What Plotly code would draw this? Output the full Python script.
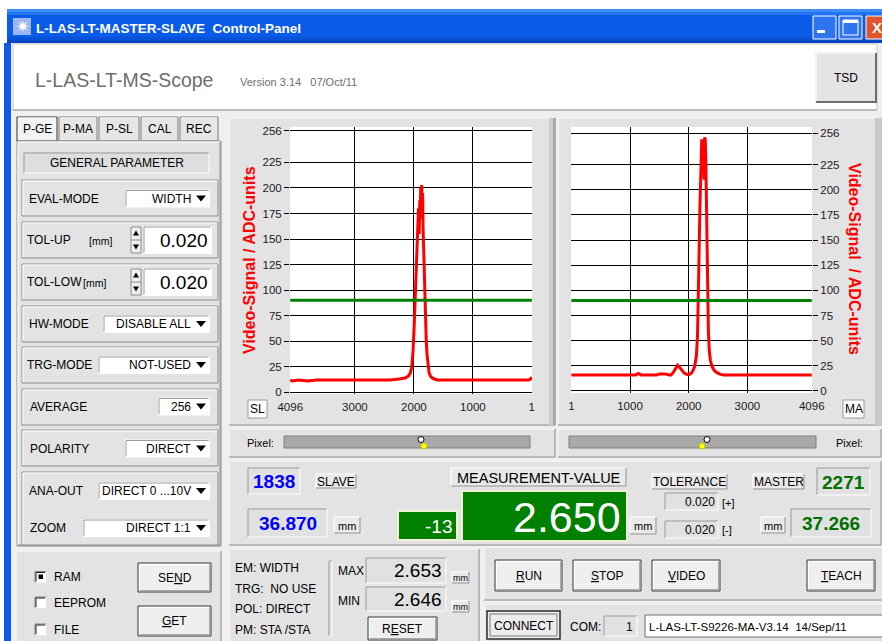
import plotly.graph_objects as go

W, H = 882, 641
FONT = "Liberation Sans, Arial, sans-serif"

# ---------------- data ----------------
sl_pixel = [4096, 4060, 3950, 3800, 3650, 3500, 3350, 3200, 3000, 2800, 2600, 2400, 2250,
            2150, 2090, 2060, 2035, 2015, 1995, 1978, 1962, 1948, 1935, 1922, 1910, 1900,
            1892, 1884, 1876, 1868, 1860, 1852, 1844, 1836, 1826, 1815, 1802, 1790, 1776,
            1760, 1742, 1720, 1690, 1650, 1600, 1450, 1300, 1100, 900, 700, 500, 300, 150,
            60, 20, 1]
sl_signal = [12, 11, 12, 11, 12, 12, 12, 12, 12, 12, 12, 12, 13,
             14, 16, 19, 25, 40, 65, 95, 125, 150, 165, 180, 155, 188,
             170, 200, 178, 203, 185, 195, 160, 140, 115, 90, 68, 50, 36,
             25, 19, 16, 14, 13, 12, 12, 12, 12, 12, 12, 12, 12, 12,
             12, 13, 15]

ma_pixel = [1, 100, 300, 500, 700, 900, 1100, 1143, 1190, 1300, 1450, 1503, 1600, 1660,
            1700, 1743, 1780, 1811, 1850, 1886, 1930, 1971, 2010, 2040, 2070, 2100, 2131,
            2150, 2165, 2178, 2190, 2200, 2212, 2222, 2232, 2242, 2252, 2262, 2272, 2282,
            2292, 2302, 2312, 2322, 2335, 2350, 2371, 2400, 2440, 2490, 2540, 2600, 2800,
            3000, 3300, 3600, 3900, 4096]
ma_signal = [16, 16, 16, 16, 16, 16, 16, 17.5, 16, 16, 16, 17, 17, 16,
             16, 19, 23, 25.5, 23, 20, 17.5, 16.5, 16.5, 17.5, 20, 24, 35,
             55, 90, 140, 180, 212, 232, 250, 215, 250, 248, 210, 252, 250,
             228, 180, 135, 95, 60, 40, 30, 24, 20, 18, 16.5, 16, 16,
             16, 16, 16, 16, 16]

sl_threshold = 90
ma_threshold = 90
pixel_span = [4096, 1]
sl_xticks = [4096, 3000, 2000, 1000, 1]
ma_xticks = [1, 1000, 2000, 3000, 4096]
adc_ticks = [0, 25, 50, 75, 100, 125, 150, 175, 200, 225, 256]

slave_pixel_txt = "1838"
master_pixel_txt = "2271"
slave_mm_txt = "36.870"
master_mm_txt = "37.266"
measurement_txt = "2.650"
diff_txt = "-13"
tol_up_txt = "0.020"
tol_low_txt = "0.020"
max_txt = "2.653"
min_txt = "2.646"

# ---------------- drawing helpers (pixel -> paper) ----------------
shapes = []
annots = []

C_PANEL = "#e3e3e3"
C_WIN = "#efefef"


def X(px):
    return px / W


def Y(py):
    return 1 - py / H


def rect(x0, y0, x1, y1, fill, line=None, lw=1):
    shapes.append(dict(type="rect", xref="paper", yref="paper", layer="below",
                       x0=X(x0), x1=X(x1), y0=Y(y1), y1=Y(y0), fillcolor=fill,
                       line=dict(color=line if line else "rgba(0,0,0,0)",
                                 width=lw if line else 0)))


def seg(x0, y0, x1, y1, color, lw=1):
    shapes.append(dict(type="line", xref="paper", yref="paper", layer="below",
                       x0=X(x0), x1=X(x1), y0=Y(y0), y1=Y(y1),
                       line=dict(color=color, width=lw)))


def circle(cx, cy, r, fill, line=None):
    shapes.append(dict(type="circle", xref="paper", yref="paper", layer="below",
                       x0=X(cx - r), x1=X(cx + r), y0=Y(cy + r), y1=Y(cy - r),
                       fillcolor=fill,
                       line=dict(color=line if line else "rgba(0,0,0,0)",
                                 width=1 if line else 0)))


def tri(cx, cy, w, h, up=True, color="#000"):
    if up:
        pts = [(cx - w / 2, cy + h / 2), (cx + w / 2, cy + h / 2), (cx, cy - h / 2)]
    else:
        pts = [(cx - w / 2, cy - h / 2), (cx + w / 2, cy - h / 2), (cx, cy + h / 2)]
    path = "M " + " L ".join(f"{X(a):.5f},{Y(b):.5f}" for a, b in pts) + " Z"
    shapes.append(dict(type="path", xref="paper", yref="paper", layer="below",
                       path=path, fillcolor=color, line=dict(color=color, width=0)))


def bevel(x0, y0, x1, y1, fill=C_PANEL, raised=True, outer=None):
    rect(x0, y0, x1, y1, fill, outer)
    a, b = ("#ffffff", "#8e8e8e") if raised else ("#9a9a9a", "#ffffff")
    seg(x0 + 1, y0 + 1, x1 - 1, y0 + 1, a)
    seg(x0 + 1, y0 + 1, x0 + 1, y1 - 1, a)
    seg(x0 + 1, y1 - 1, x1 - 1, y1 - 1, b)
    seg(x1 - 1, y0 + 1, x1 - 1, y1 - 1, b)


def display(x0, y0, x1, y1, fill="#e1e1e1"):
    bevel(x0, y0, x1, y1, fill, raised=False)


def text(x, y, s, size=12, color="#000000", anchor="left", bold=False, angle=0,
         family=FONT):
    if bold:
        s = "<b>" + s + "</b>"
    annots.append(dict(x=X(x), y=Y(y), xref="paper", yref="paper", text=s,
                       showarrow=False, xanchor=anchor, yanchor="middle",
                       textangle=angle, borderpad=0,
                       font=dict(size=size, color=color, family=family)))


def small_button(x0, y0, x1, y1, label, size=12):
    bevel(x0, y0, x1, y1, "#e9e9e9", raised=True)
    text((x0 + x1) / 2, (y0 + y1) / 2 + 0.5, label, size=size, anchor="center")


def button(x0, y0, x1, y1, label, size=12):
    rect(x0, y0, x1, y1, "#efefef", "#3a3a3a")
    seg(x0 + 1.5, y0 + 1.5, x1 - 1.5, y0 + 1.5, "#ffffff", 1)
    seg(x0 + 1.5, y0 + 1.5, x0 + 1.5, y1 - 1.5, "#ffffff", 1)
    seg(x0 + 1.5, y1 - 1.5, x1 - 1.5, y1 - 1.5, "#a8a8a8", 1)
    seg(x1 - 1.5, y0 + 1.5, x1 - 1.5, y1 - 1.5, "#a8a8a8", 1)
    text((x0 + x1) / 2, (y0 + y1) / 2, label, size=size, anchor="center")


def dropdown(x0, x1, yc, label):
    y0, y1 = yc - 9, yc + 9
    display(x0, y0, x1, y1, "#ffffff")
    text(x1 - 18, yc, label, size=12, anchor="right")
    tri(x1 - 9, yc, 10, 6, up=False)


# ---------------- window frame ----------------
rect(0, 0, 882, 9, "#ffffff")
rect(7, 9, 882, 43, "#0a5ce8")
rect(7, 9, 882, 12, "#3d8ef8")
rect(7, 12, 882, 15, "#2274f2")
rect(7, 37, 882, 40, "#0752d8")
rect(7, 40, 882, 43, "#0546c4")
rect(13, 18, 31, 35, "#9bb6f0")
text(22, 27, "✷", size=16, color="#ffffff", anchor="center", family="DejaVu Sans")
text(35, 28, "L-LAS-LT-MASTER-SLAVE&nbsp;&nbsp;Control-Panel", size=13.5,
     color="#ffffff", bold=True)
# caption buttons
rect(813, 16, 836, 39, "#2f74ee", "#ffffff")
rect(817, 30, 825, 33, "#ffffff")
rect(839, 16, 862, 39, "#2f74ee", "#ffffff")
rect(843, 20, 858, 35, "rgba(0,0,0,0)", "#ffffff")
rect(843, 20, 858, 23, "#ffffff")
rect(866, 16, 886, 39, "#e0562d", "#ffffff")
text(877, 27.5, "X", size=15, color="#ffffff", anchor="center", bold=True)

rect(7, 43, 882, 641, C_WIN)
rect(4, 43, 11, 641, "#0a5ce8")

# header
rect(13, 44, 877, 110, "#ffffff", "#c6c6c6")
seg(13, 110, 877, 110, "#9a9a9a")
text(34, 80, "L-LAS-LT-MS-Scope", size=19.5, color="#6e6e6e")
text(239, 81.5, "Version 3.14&nbsp;&nbsp;&nbsp;07/Oct/11", size=11, color="#6e6e6e")
bevel(815, 52, 877, 103, "#e4e4e4")
seg(816, 102, 877, 102, "#6e6e6e", 2)
seg(876, 53, 876, 103, "#6e6e6e", 2)
text(846, 78, "TSD", size=12, anchor="center")

# ---------------- left parameter panel ----------------
rect(15, 116, 223, 546, C_WIN)
tabs = [("P-GE", 17, 57), ("P-MA", 59, 97), ("P-SL", 99, 139), ("CAL", 141, 178),
        ("REC", 180, 218)]
for i, (lab, a, b) in enumerate(tabs):
    rect(a, 117, b, 141, "#f3f3f3" if i == 0 else "#e6e6e6",
         "#303030" if i == 0 else "#7a7a7a")
    seg(a + 1, 118, b - 1, 118, "#ffffff")
    text((a + b) / 2, 129, lab, size=12, anchor="center")
bevel(17, 141, 221, 546, C_PANEL, outer="#8c8c8c")
display(23, 152, 210, 174, "#dedede")
text(116.5, 163, "GENERAL PARAMETER", size=12, anchor="center")

for (g0, g1) in [(180, 216), (222, 258), (264, 300), (306, 342), (347, 383),
                 (389, 425), (430, 466), (472, 545)]:
    rect(22, g0, 218, g1, C_PANEL, "#8c8c8c")
    seg(23, g0 + 1, 217, g0 + 1, "#ffffff")
    seg(23, g0 + 1, 23, g1 - 1, "#ffffff")

text(28, 198.5, "EVAL-MODE")
dropdown(125, 210, 198.5, "WIDTH")
text(26, 240, "TOL-UP")
text(88, 240.5, "[mm]", size=10.5)
text(26, 282, "TOL-LOW")
text(82, 282.5, "[mm]", size=10.5)
for (b0, b1) in [(226, 254), (268, 296)]:
    rect(131, b0 + 1, 141, b1 - 1, "#f0f0f0", "#8a8a8a")
    seg(131, (b0 + b1) / 2, 141, (b0 + b1) / 2, "#8a8a8a")
    tri(136, b0 + 7, 6, 5, up=True)
    tri(136, b1 - 7, 6, 5, up=False)
    display(143, b0, 212, b1, "#ffffff")
text(209, 240, tol_up_txt, size=19, anchor="right")
text(209, 282, tol_low_txt, size=19, anchor="right")
text(28, 324, "HW-MODE")
dropdown(103, 210, 324, "DISABLE ALL")
text(26, 365, "TRG-MODE")
dropdown(98, 210, 365, "NOT-USED")
text(29, 406.5, "AVERAGE")
dropdown(158, 210, 406.5, "256")
text(29, 448.5, "POLARITY")
dropdown(125, 210, 448.5, "DIRECT")
text(28, 491, "ANA-OUT")
dropdown(98, 210, 491, "DIRECT 0 ...10V")
text(29, 528, "ZOOM")
dropdown(83, 210, 528, "DIRECT 1:1")

# ---------------- chart panels ----------------
bevel(228, 117, 556, 426, C_PANEL)
rect(549, 118, 555, 425, "#cdcdcd")
rect(553, 118, 556, 425, "#a9a9a9")
bevel(557, 117, 882, 426, C_PANEL)
rect(875, 118, 882, 425, "#c9c9c9")
rect(290, 127, 532, 394, "#ffffff")
rect(571, 127, 812, 393, "#ffffff")
rect(248, 400, 267, 418, "#ffffff", "#9a9a9a")
text(257.5, 409, "SL", size=12, anchor="center")
rect(843, 400, 864, 418, "#ffffff", "#9a9a9a")
text(853.5, 409, "MA", size=12, anchor="center")
text(249, 260, "Video-Signal / ADC-units", size=16, color="#ff0000", bold=True,
     angle=-90, anchor="center")
text(855, 259, "Video-Signal&nbsp;&nbsp;/ ADC-units", size=16, color="#ff0000",
     bold=True, angle=90, anchor="center")

# pixel bars
bevel(228, 428, 556, 458, C_PANEL)
bevel(557, 428, 882, 458, C_PANEL)
text(246, 442.5, "Pixel:", size=11)
rect(284, 436, 530, 448, "#a9a9a9", "#7e7e7e")
circle(421, 439.5, 3, "#ffffff", "#000000")
circle(424, 446, 3, "#ffff00", "#c8c800")
text(835, 443, "Pixel:", size=11)
rect(569, 436, 816, 448, "#a9a9a9", "#7e7e7e")
circle(707, 439.5, 3, "#ffffff", "#000000")
circle(702, 446, 3, "#ffff00", "#c8c800")

# ---------------- measurement panel ----------------
bevel(228, 460, 882, 546, C_PANEL)
display(247, 467, 301, 495)
text(274, 481.5, slave_pixel_txt, size=19, color="#0000ff", bold=True, anchor="center")
small_button(315, 473, 357, 489, "SLAVE")
display(247, 508, 328, 538)
text(287.5, 523, slave_mm_txt, size=19, color="#0000ff", bold=True, anchor="center")
small_button(333, 516, 361, 534, "mm", size=11)
rect(398, 511, 457, 540, "#008000", "#f3f0d8", 2)
text(453, 526, diff_txt, size=19, color="#ffffff", anchor="right")
small_button(450, 467, 627, 487, "MEASUREMENT-VALUE", size=14.5)
rect(462, 491, 627, 541, "#008000", "#f3f0d8", 2)
text(622, 517, measurement_txt, size=43, color="#ffffff", anchor="right")
small_button(629, 516, 657, 535, "mm", size=11)
small_button(651, 473, 728, 490, "TOLERANCE")
display(664, 492, 719, 511)
text(716, 502, tol_up_txt, size=12, anchor="right")
text(721, 503, "[+]", size=11)
display(664, 520, 719, 539)
text(716, 530, tol_low_txt, size=12, anchor="right")
text(721, 530, "[-]", size=11)
small_button(752, 473, 805, 490, "MASTER")
display(816, 467, 871, 496)
text(843.5, 482, master_pixel_txt, size=19, color="#007000", bold=True, anchor="center")
small_button(760, 516, 786, 534, "mm", size=11)
display(790, 508, 872, 538)
text(831, 523, master_mm_txt, size=19, color="#007000", bold=True, anchor="center")

# ---------------- bottom left panel ----------------
bevel(15, 550, 222, 645, C_PANEL)
for (lab, yc, checked) in [("RAM", 577, True), ("EEPROM", 602.5, False),
                           ("FILE", 629.5, False)]:
    rect(35, yc - 5.5, 46, yc + 5.5, "#ffffff")
    seg(35, yc - 5.5, 46, yc - 5.5, "#808080")
    seg(35, yc - 5.5, 35, yc + 5.5, "#808080")
    seg(36, yc - 4.5, 45, yc - 4.5, "#202020")
    seg(36, yc - 4.5, 36, yc + 4.5, "#202020")
    if checked:
        rect(38.5, yc - 2.5, 43, yc + 2, "#000000")
    text(53, yc, lab, size=12)
button(138, 563, 211, 592, "SE<u>N</u>D")
button(138, 606, 211, 636, "<u>G</u>ET")

# ---------------- bottom middle panel ----------------
bevel(228, 548, 480, 645, C_PANEL)
text(234, 568, "EM: WIDTH")
text(234, 588.5, "TRG:&nbsp;&nbsp;NO USE")
text(234, 609, "POL: DIRECT")
text(234, 629.5, "PM: STA /STA")
display(328, 560, 333, 637)
text(337, 571, "MAX", size=12)
display(365, 557, 447, 584)
text(443, 570, max_txt, size=19, anchor="right")
small_button(451, 571, 470, 584, "mm", size=9)
text(337, 600.5, "MIN", size=12)
display(365, 586, 447, 612)
text(443, 599, min_txt, size=19, anchor="right")
small_button(451, 600, 470, 613, "mm", size=9)
button(368, 617, 437, 640, "R<u>E</u>SET")

# ---------------- bottom right panels ----------------
bevel(483, 546, 884, 601, C_PANEL)
button(495, 560, 562, 591, "<u>R</u>UN")
button(573, 560, 641, 591, "<u>S</u>TOP")
button(652, 560, 720, 591, "<u>V</u>IDEO")
button(807, 560, 875, 591, "<u>T</u>EACH")
bevel(483, 603, 884, 645, C_PANEL)
rect(487, 611, 560, 639, "#ececec", "#2a2a2a", 1.5)
rect(490, 614, 557, 636, "rgba(0,0,0,0)", "#7a7a7a", 1)
text(523.5, 625.5, "CONNECT", size=12, anchor="center")
text(569, 627, "COM:", size=12)
display(603, 615, 638, 637)
text(634, 626.5, "1", size=12, anchor="right")
rect(645, 615, 886, 637, "#ffffff", "#6e6e6e")
text(648, 626.5, "L-LAS-LT-S9226-MA-V3.14&nbsp;&nbsp;14/Sep/11", size=11.5)

# ---------------- figure ----------------
fig = go.Figure()
fig.add_trace(go.Scatter(x=sl_pixel, y=sl_signal, mode="lines",
                         line=dict(color="#ff0000", width=3), xaxis="x", yaxis="y"))
fig.add_trace(go.Scatter(x=pixel_span, y=[sl_threshold] * 2, mode="lines",
                         line=dict(color="#008000", width=3), xaxis="x", yaxis="y"))
fig.add_trace(go.Scatter(x=ma_pixel, y=ma_signal, mode="lines",
                         line=dict(color="#ff0000", width=3), xaxis="x2", yaxis="y2"))
fig.add_trace(go.Scatter(x=pixel_span, y=[ma_threshold] * 2, mode="lines",
                         line=dict(color="#008000", width=3), xaxis="x2", yaxis="y2"))

tickfont = dict(size=11.5, color="#1a1a1a", family=FONT)
common_x = dict(showgrid=True, gridcolor="#000000", gridwidth=1, zeroline=False,
                showline=False, ticks="outside", ticklen=2, tickcolor="rgba(0,0,0,0)",
                tickfont=tickfont, fixedrange=True)
common_y = dict(showgrid=True, gridcolor="#000000", gridwidth=1, zeroline=False,
                showline=False, ticks="outside", ticklen=5, tickcolor="#000000",
                tickfont=tickfont, tickvals=adc_ticks, fixedrange=True)

fig.update_layout(
    width=W, height=H, margin=dict(l=0, r=0, t=0, b=0, autoexpand=False),
    autosize=False,
    paper_bgcolor="#ffffff", plot_bgcolor="rgba(0,0,0,0)",
    showlegend=False, hovermode=False,
    font=dict(family=FONT),
    xaxis=dict(domain=[X(290), X(532)], range=[4100, -2], tickvals=sl_xticks,
               anchor="y", **common_x),
    yaxis=dict(domain=[Y(394), Y(126.7)], range=[-1.7, 260], anchor="x", **common_y),
    xaxis2=dict(domain=[X(571), X(812)], range=[-5, 4100], tickvals=ma_xticks,
                anchor="y2", **common_x),
    yaxis2=dict(domain=[Y(393.3), Y(126.7)], range=[-2.3, 262.6], anchor="x2",
                side="right", **common_y),
    shapes=shapes, annotations=annots,
)

fig.write_html(
    "out.html",
    config={"responsive": False, "displayModeBar": False},
    post_script="document.body.style.margin='0';document.body.style.overflow='hidden';",
)
